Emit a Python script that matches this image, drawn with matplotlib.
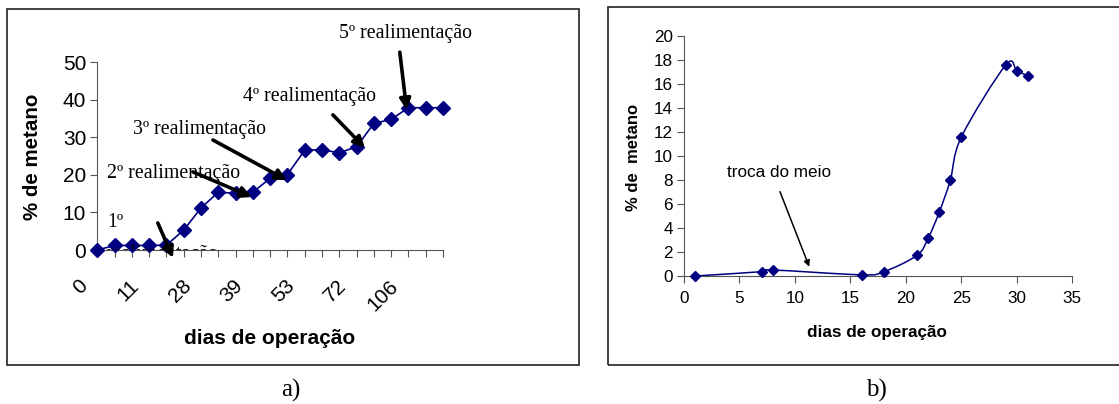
import numpy as np
import matplotlib.pyplot as plt
from matplotlib.path import Path
from matplotlib.patches import PathPatch, Rectangle

# a) metano por ponto de amostragem (eixo de categorias)
metano_a = [0, 1.2, 1.2, 1.2, 1.3, 5.3, 11.2, 15.4, 15.1, 15.4, 19.1, 20.1,
            26.6, 26.7, 25.9, 27.5, 33.7, 34.8, 37.9, 37.9, 37.9]
rotulos_a = ['0', '11', '28', '39', '53', '72', '106']

# b) metano x dias de operação
dias_b = [1, 7, 8, 16, 18, 21, 22, 23, 24, 25, 29, 30, 31]
metano_b = [0, 0.36, 0.5, 0.1, 0.35, 1.72, 3.13, 5.3, 7.96, 11.57, 17.56, 17.09, 16.64]

navy = '#000080'
sans = 'Liberation Sans'
serif = 'Liberation Serif'


def suave(x, y):
    # curva suavizada tipo Excel (bezier catmull-rom)
    x = np.asarray(x, float)
    y = np.asarray(y, float)
    pts = np.column_stack([x, y])
    n = len(pts)
    verts = [pts[0]]
    codes = [Path.MOVETO]
    for i in range(n - 1):
        p0 = pts[max(i - 1, 0)]
        p1 = pts[i]
        p2 = pts[i + 1]
        p3 = pts[min(i + 2, n - 1)]
        verts += [p1 + (p2 - p0) / 6, p2 - (p3 - p1) / 6, p2]
        codes += [Path.CURVE4] * 3
    return Path(verts, codes)


fig = plt.figure(figsize=(11.19, 4.04), dpi=100)

# molduras
fig.patches.append(Rectangle((7 / 1119, 1 - 365 / 404), 572 / 1119, 356 / 404,
                             transform=fig.transFigure, fill=False, lw=1.2, ec='#222222'))
fig.patches.append(Rectangle((608 / 1119, 1 - 365 / 404), 520 / 1119, 358 / 404,
                             transform=fig.transFigure, fill=False, lw=1.2, ec='#222222'))

# ---- a)
ax1 = fig.add_axes([97.3 / 1119, 1 - 250 / 404, 345.7 / 1119, 187.7 / 404])
xa = np.arange(len(metano_a))
ax1.plot(xa, metano_a, color=navy, lw=1.2, marker='D', ms=7, clip_on=False, zorder=3)
ax1.set_xlim(0, len(metano_a) - 1)
ax1.set_ylim(0, 50)
ax1.set_yticks(range(0, 51, 10))
ax1.set_xticks(xa)
ax1.set_xticklabels([])
# rótulos inclinados (um a cada 3 categorias), deslocados como no Excel
for k, r in enumerate(rotulos_a):
    ax1.annotate(r, xy=(3 * k, 0), xycoords=('data', 'axes fraction'),
                 xytext=(-13, -33), textcoords='offset pixels',
                 rotation=45, ha='right', va='center', rotation_mode='anchor',
                 fontname=sans, fontsize=15, annotation_clip=False)
for t in ax1.get_yticklabels():
    t.set_fontname(sans)
    t.set_fontsize(15)
ax1.tick_params(axis='x', length=5, width=0.8, color='#555555')
ax1.tick_params(axis='y', length=5, width=0.8, color='#555555', pad=3)
for s in ['top', 'right']:
    ax1.spines[s].set_visible(False)
for s in ['left', 'bottom']:
    ax1.spines[s].set_color('#555555')
    ax1.spines[s].set_linewidth(0.8)

fig.text(33 / 1119, 1 - 157 / 404, '% de metano', rotation=90, ha='center', va='center',
         fontname=sans, fontweight='bold', fontsize=14.8)
fig.text(270 / 1119, 1 - 338 / 404, 'dias de operação', ha='center', va='center',
         fontname=sans, fontweight='bold', fontsize=15)

ax1.text(0.57, 7.2, '1º', fontname=serif, fontsize=14.3, va='center')
ax1.text(0.57, 1.4, 'realimentação', fontname=serif, fontsize=14.3, va='top', clip_on=True)
ax1.text(0.56, 20.5, '2º realimentação', fontname=serif, fontsize=14.3, va='center')
ax1.text(2.07, 32.2, '3º realimentação', fontname=serif, fontsize=14.3, va='center')
ax1.text(8.43, 40.8, '4º realimentação', fontname=serif, fontsize=14.3, va='center')
ax1.text(13.98, 57.8, '5º realimentação', fontname=serif, fontsize=14.3, va='center')

setas = [((3.5, 7.2), (4.38, -2.1)),
         ((5.54, 20.8), (8.94, 14.1)),
         ((6.69, 29.3), (10.97, 18.6)),
         ((13.63, 36.0), (15.48, 27.2)),
         ((17.5, 52.7), (17.9, 37.3))]
for ini, fim in setas:
    ax1.annotate('', xy=fim, xytext=ini, annotation_clip=False,
                 arrowprops=dict(arrowstyle='-|>', lw=2.6, color='black',
                                 mutation_scale=16, shrinkA=0, shrinkB=0), zorder=5)

# ---- b)
ax2 = fig.add_axes([684 / 1119, 1 - 276 / 404, 388.3 / 1119, 240.3 / 404])
ax2.add_patch(PathPatch(suave(dias_b, metano_b), fill=False, ec=navy, lw=1.1, zorder=2))
ax2.plot(dias_b, metano_b, ls='none', color=navy, marker='D', ms=5.5, clip_on=False, zorder=3)
ax2.set_xlim(0, 35)
ax2.set_ylim(0, 20)
ax2.set_xticks(range(0, 36, 5))
ax2.set_yticks(range(0, 21, 2))
for t in ax2.get_xticklabels() + ax2.get_yticklabels():
    t.set_fontname(sans)
    t.set_fontsize(12.3)
ax2.tick_params(axis='x', length=5, width=0.8, color='#555555', pad=6)
ax2.tick_params(axis='y', length=5, width=0.8, color='#555555', pad=3)
for s in ['top', 'right']:
    ax2.spines[s].set_visible(False)
for s in ['left', 'bottom']:
    ax2.spines[s].set_color('#555555')
    ax2.spines[s].set_linewidth(0.8)

fig.text(634 / 1119, 1 - 157 / 404, '% de  metano', rotation=90, ha='center', va='center',
         fontname=sans, fontweight='bold', fontsize=12)
fig.text(877 / 1119, 1 - 333 / 404, 'dias de operação', ha='center', va='center',
         fontname=sans, fontweight='bold', fontsize=12.3)

ax2.text(3.85, 8.63, 'troca do meio', fontname=sans, fontsize=12.3, va='center')
ax2.annotate('', xy=(11.29, 0.77), xytext=(8.65, 7.02),
             arrowprops=dict(arrowstyle='-|>', lw=1.1, color='black',
                             mutation_scale=9, shrinkA=0, shrinkB=0))

fig.text(291 / 1119, 1 - 390 / 404, 'a)', ha='center', va='center', fontname=serif, fontsize=18)
fig.text(876 / 1119, 1 - 390 / 404, 'b)', ha='center', va='center', fontname=serif, fontsize=18)

fig.savefig('out.png', dpi=100)
